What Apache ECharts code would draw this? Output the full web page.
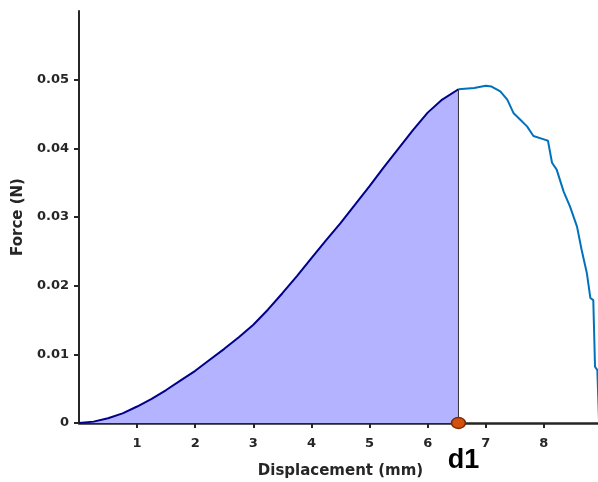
<!DOCTYPE html>
<html>
<head>
<meta charset="utf-8">
<script src="https://cdn.jsdelivr.net/npm/echarts@6/dist/echarts.min.js"></script>
<style>html,body{margin:0;padding:0;background:#fff}#c{width:598px;height:482px}</style>
</head>
<body>
<div id="c"></div>
<script>
// Loading phase (filled area, up to d1)
const loadX = [0, 0.25, 0.5, 0.75, 1.0, 1.25, 1.5, 1.75, 2.0, 2.25, 2.5, 2.75, 3.0, 3.25, 3.5, 3.75, 4.0, 4.25, 4.5, 4.75, 5.0, 5.25, 5.5, 5.75, 6.0, 6.25, 6.53];
const loadF = [0, 0.0002, 0.0007, 0.0014, 0.0024, 0.0035, 0.0048, 0.0062, 0.0076, 0.0092, 0.0108, 0.0125, 0.0143, 0.0165, 0.0189, 0.0214, 0.0240, 0.0266, 0.0291, 0.0318, 0.0345, 0.0373, 0.0400, 0.0427, 0.0452, 0.0471, 0.0486];
// Post-d1 phase
const postX = [6.53, 6.8, 7.0, 7.1, 7.25, 7.37, 7.48, 7.59, 7.71, 7.82, 8.0, 8.07, 8.14, 8.22, 8.34, 8.45, 8.57, 8.65, 8.74, 8.80, 8.85, 8.88, 8.92, 8.95];
const postF = [0.0486, 0.0488, 0.0491, 0.0490, 0.0483, 0.0471, 0.0451, 0.0442, 0.0432, 0.0418, 0.0413, 0.0411, 0.0379, 0.0369, 0.0337, 0.0315, 0.0286, 0.0252, 0.0218, 0.0182, 0.0179, 0.0082, 0.0077, 0.0];
const d1X = 6.53;
const d1F = 0.0486;
const xTicks = [1, 2, 3, 4, 5, 6, 7, 8, 9];
const yTicks = [0, 0.01, 0.02, 0.03, 0.04, 0.05];

const font = '"DejaVu Sans", Verdana, sans-serif';
const d1Font = 'Arial, "Liberation Sans", Helvetica, sans-serif';
const axisColor = '#262626';
const chart = echarts.init(document.getElementById('c'), null, {renderer: 'canvas'});
chart.setOption({
  animation: false,
  backgroundColor: '#fff',
  grid: {left: 79, right: -4, top: 11, bottom: 59, containLabel: false, outerBoundsMode: 'none'},
  xAxis: {
    type: 'value', min: 0, max: 9, interval: 1,
    name: 'Displacement (mm)', nameLocation: 'middle', nameGap: 41,
    nameTextStyle: {fontFamily: font, fontSize: 15, fontWeight: 'bold', color: axisColor},
    axisLine: {show: true, onZero: false, lineStyle: {color: axisColor, width: 2.5}},
    axisTick: {show: true, inside: false, length: 5, customValues: xTicks, lineStyle: {color: axisColor, width: 2}},
    axisLabel: {customValues: xTicks, margin: 14, fontFamily: font, fontSize: 13, fontWeight: 'bold', color: axisColor},
    splitLine: {show: false}
  },
  yAxis: {
    type: 'value', min: 0, max: 0.06, interval: 0.01,
    name: 'Force (N)', nameLocation: 'middle', nameGap: 49,
    nameTextStyle: {fontFamily: font, fontSize: 15, fontWeight: 'bold', color: axisColor},
    axisLine: {show: true, lineStyle: {color: axisColor, width: 2}},
    axisTick: {show: true, inside: false, length: 5, customValues: yTicks, lineStyle: {color: axisColor, width: 2}},
    axisLabel: {customValues: yTicks, margin: 10, fontFamily: font, fontSize: 13, fontWeight: 'bold', color: axisColor,
      formatter: v => v === 0 ? '0' : v.toFixed(2)},
    splitLine: {show: false}
  },
  series: [
    {
      type: 'line', data: loadX.map((x, i) => [x, loadF[i]]), showSymbol: false, symbol: 'none',
      lineStyle: {color: '#00008B', width: 2}, areaStyle: {color: '#B3B3FF', opacity: 1, origin: 'start'}, z: 2
    },
    {
      type: 'line', data: postX.map((x, i) => [x, postF[i]]), showSymbol: false, symbol: 'none',
      lineStyle: {color: '#0072BD', width: 2}, z: 2
    },
    {
      type: 'line', data: [[d1X, 0], [d1X, d1F]], showSymbol: false, symbol: 'none',
      lineStyle: {color: '#333333', width: 1}, z: 3
    },
    {
      type: 'scatter', data: [[d1X, 0]], symbol: 'circle', symbolSize: [14, 11],
      itemStyle: {color: '#D4500F', borderColor: '#7A2A00', borderWidth: 1.5, opacity: 1}, z: 5,
      label: {show: true, formatter: 'd1', position: 'inside', offset: [5, 38], fontFamily: d1Font, fontSize: 27, fontWeight: 'bold', color: '#000'}
    }
  ]
});
</script>
</body>
</html>
